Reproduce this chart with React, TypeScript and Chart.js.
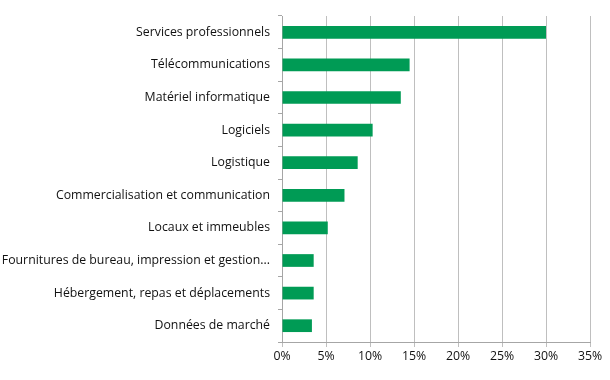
import React, { useEffect, useRef } from "react";
import { Chart, registerables } from "chart.js";

Chart.register(...registerables);

const categories = [
  "Services professionnels",
  "Télécommunications",
  "Matériel informatique",
  "Logiciels",
  "Logistique",
  "Commercialisation et communication",
  "Locaux et immeubles",
  "Fournitures de bureau, impression et gestion...",
  "Hébergement, repas et déplacements",
  "Données de marché",
];

const shares = [30.0, 14.5, 13.5, 10.3, 8.6, 7.1, 5.2, 3.6, 3.6, 3.4];

const xTicks = [0, 5, 10, 15, 20, 25, 30, 35];

export default function App() {
  const ref = useRef<HTMLCanvasElement | null>(null);

  useEffect(() => {
    document.body.style.margin = "0";
    const ctx = ref.current!;
    const chart = new Chart(ctx, {
      type: "bar",
      data: {
        labels: categories,
        datasets: [
          {
            data: shares,
            backgroundColor: "#009B55",
            borderWidth: 0,
            barPercentage: 0.39,
            categoryPercentage: 1,
          },
        ],
      },
      options: {
        indexAxis: "y",
        animation: false,
        responsive: false,
        maintainAspectRatio: false,
        layout: { padding: { top: 16, right: 20, left: 0, bottom: 0 } },
        plugins: { legend: { display: false }, tooltip: { enabled: false } },
        scales: {
          x: {
            min: 0,
            max: 35,
            afterBuildTicks: (scale: any) => {
              scale.ticks = xTicks.map((v) => ({ value: v }));
            },
            afterFit: (scale: any) => {
              scale.height = 38;
            },
            ticks: {
              callback: (v: any) => v + "%",
              color: "#111",
              font: { family: "Open Sans", size: 12.3 },
              padding: 2,
              maxRotation: 0,
            },
            grid: {
              color: "#BFBFBF",
              lineWidth: 1,
              tickLength: 5,
              drawTicks: true,
            },
            border: { color: "#A6A6A6", width: 1 },
          },
          y: {
            afterFit: (scale: any) => {
              scale.width = 282;
            },
            ticks: {
              color: "#111",
              font: { family: "Open Sans", size: 12.3 },
              padding: 8,
              autoSkip: false,
            },
            grid: {
              offset: true,
              drawOnChartArea: false,
              tickLength: 4,
              color: "#A6A6A6",
            },
            border: { color: "#A6A6A6", width: 1 },
          },
        },
      },
    });
    return () => chart.destroy();
  }, []);

  return (
    <div style={{ width: 610, height: 380, background: "#fff" }}>
      <canvas ref={ref} width={610} height={380} style={{ display: "block" }} />
    </div>
  );
}
